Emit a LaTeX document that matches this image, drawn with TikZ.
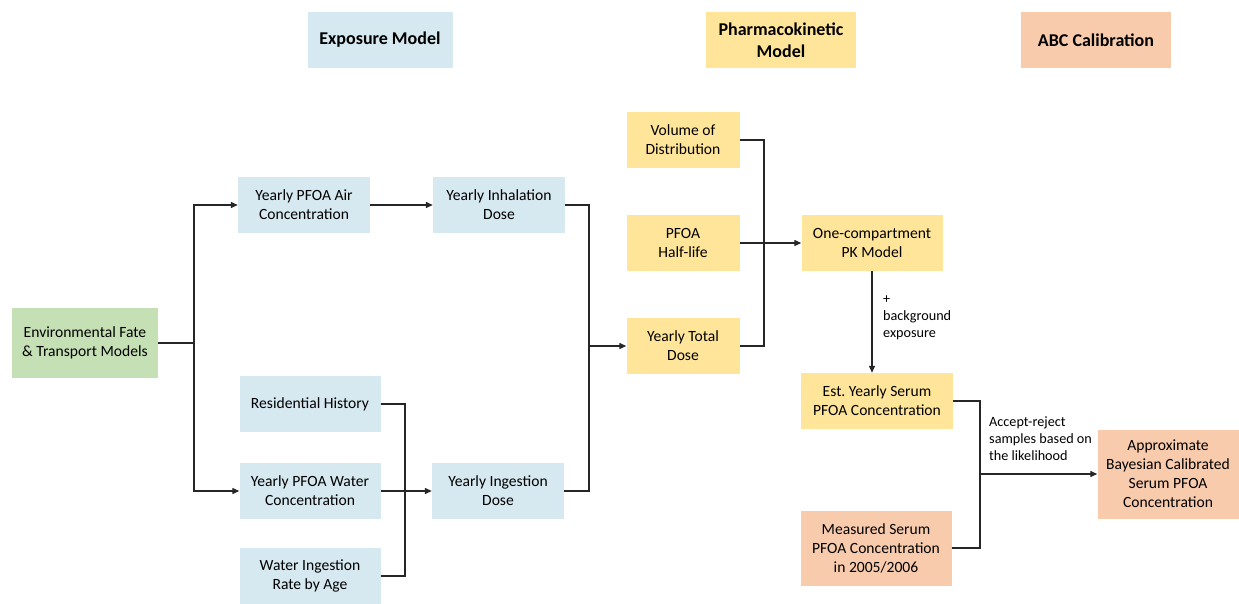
\documentclass[tikz,border=0pt]{standalone}
\usepackage{fontspec}
\setmainfont{Carlito}
\usepackage{xcolor}
\usepackage{tikz}
\usetikzlibrary{positioning,calc,arrows.meta}

\definecolor{expblue}{RGB}{214,232,240}
\definecolor{pkyellow}{RGB}{255,229,153}
\definecolor{abcorange}{RGB}{248,203,173}
\definecolor{envgreen}{RGB}{197,224,180}

\tikzset{
    box/.style={align=center, inner sep=0pt, minimum height=56pt,
        font=\fontsize{15.6}{19}\selectfont},
    head/.style={box, font=\fontsize{18}{22}\selectfont\bfseries},
    lbl/.style={align=left, inner sep=0pt, font=\fontsize{14.2}{17}\selectfont},
    line/.style={line width=1.3pt, black!85},
    arr/.style={line, -{Triangle[length=7pt,width=6pt]}}
}

\begin{document}
\begin{tikzpicture}[x=1pt,y=-1pt]
    \useasboundingbox (0,0) rectangle (1239,603);

    % Headers
    \node[head, fill=expblue, minimum width=145pt] (hexp) at (380,40) {Exposure Model};
    \node[head, fill=pkyellow, minimum width=150pt] (hpk) at (781,40) {Pharmacokinetic\\Model};
    \node[head, fill=abcorange, minimum width=150pt] (habc) at (1096,40) {ABC Calibration};

    % Exposure model
    \node[box, fill=envgreen, minimum width=146pt, minimum height=70pt] (env) at (85,343) {Environmental Fate\\\& Transport Models};
    \node[box, fill=expblue, minimum width=132pt] (air) at (304,205) {Yearly PFOA Air\\Concentration};
    \node[box, fill=expblue, minimum width=132pt] (inhal) at (499,205) {Yearly Inhalation\\Dose};
    \node[box, fill=expblue, minimum width=141pt] (res) at (310,404) {Residential History};
    \node[box, fill=expblue, minimum width=141pt] (water) at (310,491) {Yearly PFOA Water\\Concentration};
    \node[box, fill=expblue, minimum width=141pt] (rate) at (310,576) {Water Ingestion\\Rate by Age};
    \node[box, fill=expblue, minimum width=132pt] (ingest) at (498,491) {Yearly Ingestion\\Dose};

    % Pharmacokinetic model
    \node[box, fill=pkyellow, minimum width=113pt] (vol) at (683,140) {Volume of\\Distribution};
    \node[box, fill=pkyellow, minimum width=113pt] (half) at (683,243) {PFOA\\Half-life};
    \node[box, fill=pkyellow, minimum width=113pt] (total) at (683,346) {Yearly Total\\Dose};
    \node[box, fill=pkyellow, minimum width=141pt] (pk) at (872,243) {One-compartment\\PK Model};
    \node[box, fill=pkyellow, minimum width=152pt] (est) at (877,401) {Est.\ Yearly Serum\\PFOA Concentration};

    % ABC calibration
    \node[box, fill=abcorange, minimum width=151pt, minimum height=75pt] (meas) at (876,548) {Measured Serum\\PFOA Concentration\\in 2005/2006};
    \node[box, fill=abcorange, minimum width=141pt, minimum height=89pt] (abc) at (1168,474) {Approximate\\Bayesian Calibrated\\Serum PFOA\\Concentration};

    % Junctions
    \coordinate (j1) at (194,343);
    \coordinate (j2) at (405,404);
    \coordinate (j3) at (589,346);
    \coordinate (j4) at (764,243);
    \coordinate (j5) at (980,474);

    % Connectors
    \draw[line] (env.east) -- (j1);
    \draw[arr] (j1) |- (air.west);
    \draw[arr] (j1) |- (water.west);
    \draw[arr] (air.east) -- (inhal.west);
    \draw[line] (res.east) -- (j2) |- (rate.east);
    \draw[arr] (water.east) -- (ingest.west);
    \draw[line] (inhal.east) -| (j3);
    \draw[line] (ingest.east) -| (j3);
    \draw[arr] (j3) -- (total.west);
    \draw[line] (vol.east) -| (j4);
    \draw[line] (total.east) -| (j4);
    \draw[arr] (half.east) -- (pk.west);
    \draw[arr] (pk.south) -- (pk.south |- est.north);
    \draw[line] (est.east) -| (j5);
    \draw[line] (meas.east) -| (j5);
    \draw[arr] (j5) -- (abc.west);

    % Labels
    \node[lbl, anchor=north west] (bg) at (883,295) {+\\background\\exposure};
    \node[lbl, anchor=north west] (acc) at (989,417) {Accept-reject\\samples based on\\the likelihood};
\end{tikzpicture}
\end{document}
